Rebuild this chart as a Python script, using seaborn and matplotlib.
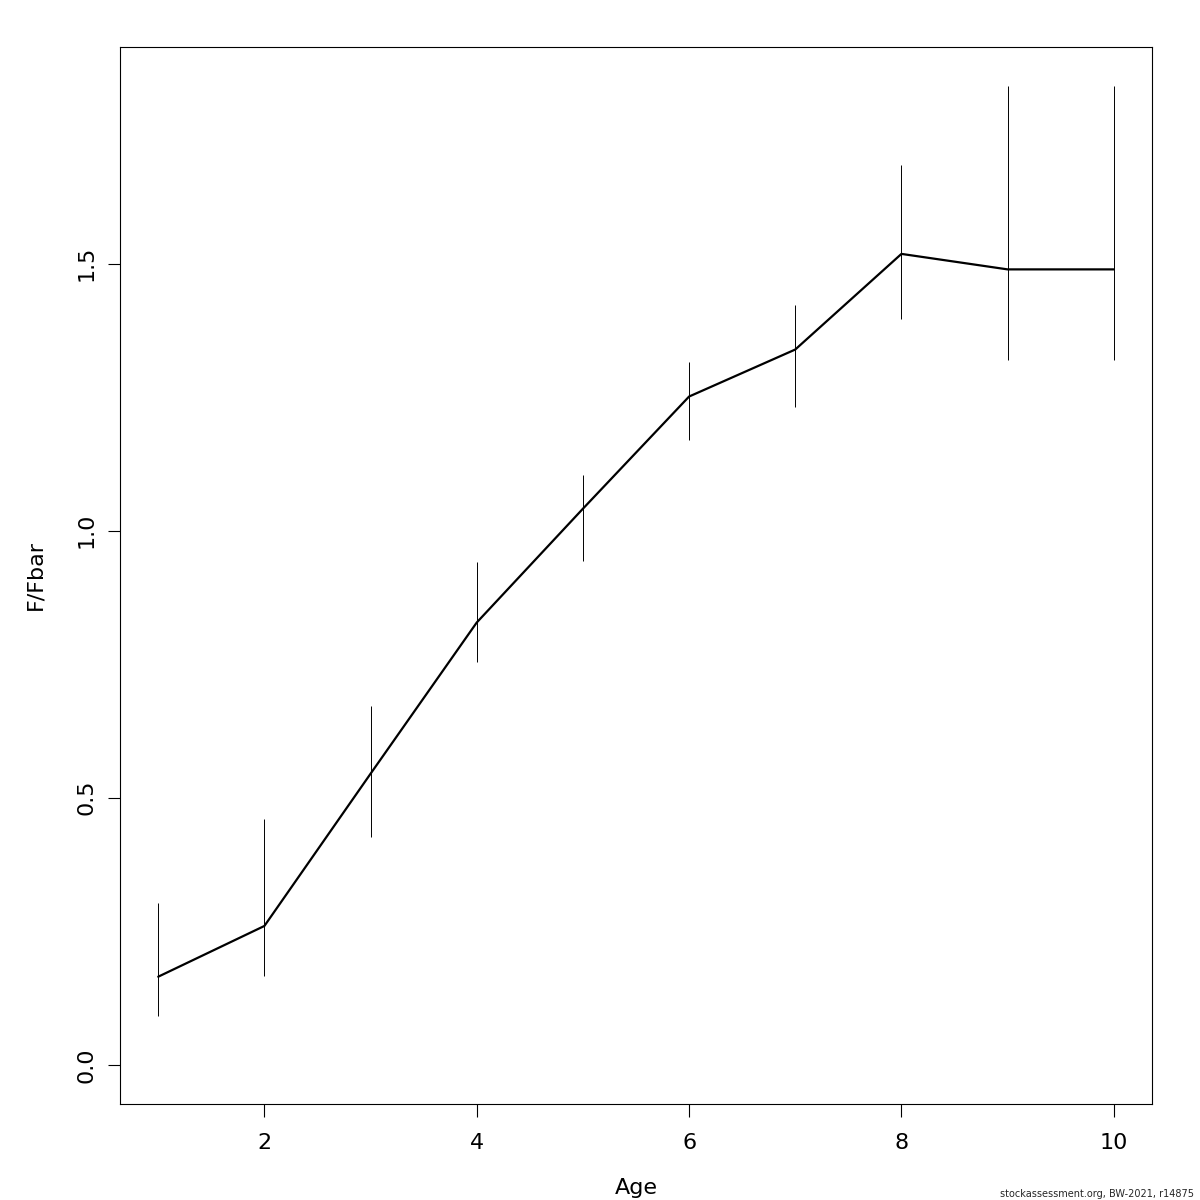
import matplotlib
matplotlib.use("Agg")
import matplotlib.pyplot as plt
import seaborn as sns
import pandas as pd
import numpy as np

ages = [1, 2, 3, 4, 5, 6, 7, 8, 9, 10]
sel = [0.165, 0.260, 0.545, 0.828, 1.041, 1.251, 1.339, 1.518, 1.489, 1.489]
lower = [0.092, 0.167, 0.427, 0.755, 0.944, 1.169, 1.232, 1.397, 1.320, 1.320]
upper = [0.303, 0.461, 0.672, 0.942, 1.105, 1.316, 1.423, 1.685, 1.832, 1.832]
xticks = [2, 4, 6, 8, 10]
yticks = [0.0, 0.5, 1.0, 1.5]

sns.set_theme(style="white")
plt.rcParams['font.family'] = ['DejaVu Sans']

df = pd.DataFrame({"Age": ages, "sel": sel, "lo": lower, "hi": upper})

fig = plt.figure(figsize=(12, 12), dpi=100)
ax = fig.add_axes([120/1200, 1 - 1104/1200, (1152-120)/1200, (1104-47)/1200])

sns.lineplot(data=df, x="Age", y="sel", ax=ax, color="black", lw=1.6)
ax.vlines(df["Age"], df["lo"], df["hi"], color="black", lw=0.7)

xr = 10 - 1
ax.set_xlim(1 - 0.04*xr, 10 + 0.04*xr)
ymin, ymax = 0.0, 1.832
yr = ymax - ymin
ax.set_ylim(ymin - 0.04*yr, ymax + 0.04*yr)

ax.set_xticks(xticks)
ax.set_xticklabels([str(t) for t in xticks], fontsize=16)
ax.set_yticks(yticks)
ax.set_yticklabels([f"{t:.1f}" for t in yticks], fontsize=16, rotation=90, va="center")
ax.tick_params(axis="both", direction="out", length=9, width=0.8, color="black", labelcolor="black")
ax.tick_params(axis="x", bottom=True, pad=12)
ax.tick_params(axis="y", left=True, pad=8)

for s in ax.spines.values():
    s.set_visible(True)
    s.set_color("black")
    s.set_linewidth(0.8)

ax.set_xlabel("Age", fontsize=16, labelpad=18, color="black")
ax.set_ylabel("F/Fbar", fontsize=16, labelpad=22, color="black")

fig.text(1194/1200, 1 - 1194/1200, "stockassessment.org, BW-2021, r14875", fontsize=7, ha="right", va="center")

fig.savefig("out.png", dpi=100, facecolor="white")
